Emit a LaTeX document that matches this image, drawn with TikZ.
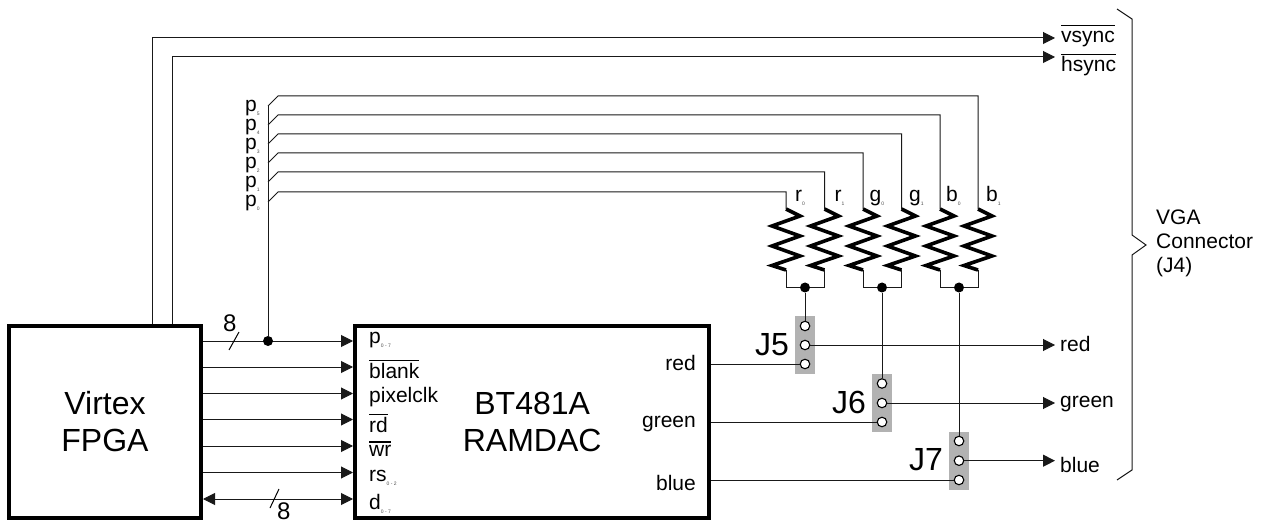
\documentclass[tikz,border=0pt]{standalone}
\usepackage{fontspec}
\setmainfont{Liberation Sans}
\usetikzlibrary{arrows.meta}
\newcommand{\ovl}[1]{\vbox{\hrule height 1.6pt\kern 1.6pt\hbox{\vphantom{b}#1}}}
\newcommand{\ovlx}[1]{\vbox{\hrule height 1.6pt\kern 2.6pt\hbox{#1}}}
\newcommand{\subs}[1]{\raisebox{-4pt}{\fontsize{5}{6}\selectfont\textcolor{black!70}{#1}}}
\tikzset{
  wire/.style={line width=1pt,black!90},
  sig/.style={wire,-{Triangle[length=12pt,width=12pt]}},
  bidir/.style={wire,{Triangle[length=12pt,width=12pt]}-{Triangle[length=12pt,width=12pt]}},
  heavybox/.style={draw=black,line width=4pt,fill=white,inner sep=0pt,minimum width=192pt,minimum height=192pt},
  bigtxt/.style={font=\fontsize{32}{37}\selectfont,align=center,inner sep=0pt},
  lab/.style={font=\fontsize{21}{24}\selectfont,inner sep=0pt,anchor=base west},
  labr/.style={font=\fontsize{21}{24}\selectfont,inner sep=0pt,anchor=base east},
  jlab/.style={font=\fontsize{32}{36}\selectfont,inner sep=0pt,anchor=base west},
  eight/.style={font=\fontsize{24}{28}\selectfont,inner sep=0pt,anchor=base west},
  junction/.style={circle,fill=black,inner sep=0pt,minimum size=10pt},
  pinhole/.style={circle,draw=black,line width=1.1pt,fill=white,inner sep=0pt,minimum size=9.5pt},
  header/.style={fill=black!30,inner sep=0pt,minimum width=20pt,minimum height=58pt},
  zig/.style={line width=3.6pt,black,miter limit=4},
}
\begin{document}
\begin{tikzpicture}[x=1pt,y=-1pt]
\useasboundingbox (0,0) rectangle (1269,521);
% blocks
\node[heavybox,bigtxt] (fpga) at (105,422) {Virtex\\FPGA};
\node[heavybox,bigtxt,minimum width=354.5pt] (ramdac) at (532.2,422) {BT481A\\RAMDAC};
% FPGA to RAMDAC
\foreach \n/\y in {a/341,b/367,c/393.5,d/419.5,e/446,f/472.5,g/499}{
  \coordinate (fo\n) at (203,\y);
  \coordinate (ri\n) at (353,\y);
}
\foreach \n in {a,b,c,d,e,f}{\draw[sig] (fo\n) -- (ri\n);}
\draw[bidir] (fog) -- (rig);
% bus slashes
\coordinate (sa1) at (229,350); \coordinate (sa2) at (239,332);
\coordinate (sb1) at (270,508); \coordinate (sb2) at (279,489);
\draw[line width=1pt] (sa1) -- (sa2);
\draw[line width=1pt] (sb1) -- (sb2);
\node[eight] (n8a) at (223,331) {8};
\node[eight] (n8b) at (277,519) {8};
% RAMDAC pins
\node[lab] (lp) at (369,344) {p\subs{0 - 7}};
\node[lab] (lblank) at (369,378) {\ovl{blank}};
\node[lab] (lclk) at (369,402) {pixelclk};
\node[lab] (lrd) at (369,432) {\ovl{rd}};
\node[lab] (lwr) at (369,456.7) {\ovlx{wr}};
\node[lab] (lrs) at (369,481) {rs\subs{0 - 2}};
\node[lab] (ld) at (369,509) {d\subs{0 - 7}};
\node[labr] (lred) at (696,370) {red};
\node[labr] (lgreen) at (696,427) {green};
\node[labr] (lblue) at (696,490) {blue};
% sync
\coordinate (vs0) at (152,324); \coordinate (vs1) at (152,38); \coordinate (vs2) at (1055,38);
\coordinate (hs0) at (172,324); \coordinate (hs1) at (172,57); \coordinate (hs2) at (1055,57);
\draw[sig] (vs0) -- (vs1) -- (vs2);
\draw[sig] (hs0) -- (hs1) -- (hs2);
\node[lab] (lv) at (1061,43) {\ovl{vsync}};
\node[lab] (lh) at (1061,72) {\ovl{hsync}};
% bus tap
\node[junction] (tap) at (268,341) {};
\coordinate (ptop) at (268,105);
\draw[wire] (tap) -- (ptop);
% resistors: name/x/y of feed line
\foreach \n/\x/\y in {p0/786/192,p1/824.5/172,p2/863/153,p3/901.5/134,p4/940/115,p5/978/96}{
  \coordinate (\n s) at (268,\y+10);
  \coordinate (\n t) at (278,\y);
  \coordinate (\n e) at (\x,\y);
  \coordinate (\n r) at (\x,209);
  \coordinate (\n b) at (\x,270);
  \draw[wire] (\n s) -- (\n t) -- (\n e) -- (\n r);
  \draw[zig] (\n r) -- ++(14,7) -- ++(-28,10) -- ++(28,10) -- ++(-28,10) -- ++(28,10) -- ++(-28,9.5) -- (\n b);
}
\foreach \n/\y/\s in {0/207/0,1/188/1,2/169/2,3/150/3,4/131/4,5/112/5}{
  \node[lab] (pl\n) at (245,\y) {p\subs{\s}};
}
\foreach \n/\x/\t/\s in {r0/795/r/0,r1/834.5/r/1,g0/869.5/g/0,g1/909/g/1,b0/946/b/0,b1/986/b/1}{
  \node[lab] (t\n) at (\x,202) {\t\subs{\s}};
}
% headers
\node[header] (h5) at (805,345) {};
\node[header] (h6) at (882,403) {};
\node[header] (h7) at (959,461) {};
\foreach \h/\x/\a/\b/\c in {5/805/326/345/364,6/882/383.5/403/422,7/959/441/460.7/480}{
  \node[pinhole] (j\h a) at (\x,\a) {};
  \node[pinhole] (j\h b) at (\x,\b) {};
  \node[pinhole] (j\h c) at (\x,\c) {};
}
\node[jlab] (lj5) at (755,355) {J5};
\node[jlab] (lj6) at (832,413) {J6};
\node[jlab] (lj7) at (909,470) {J7};
% resistor commons
\node[junction] (c1) at (805,287.5) {};
\node[junction] (c2) at (882,287.5) {};
\node[junction] (c3) at (959,287.5) {};
\draw[wire] (p0b) |- (c1) -| (p1b);
\draw[wire] (p2b) |- (c2) -| (p3b);
\draw[wire] (p4b) |- (c3) -| (p5b);
\draw[wire] (c1) -- (j5a);
\draw[wire] (c2) -- (j6a);
\draw[wire] (c3) -- (j7a);
% RAMDAC outputs
\coordinate (ro1) at (ramdac.east |- j5c);
\coordinate (ro2) at (ramdac.east |- j6c);
\coordinate (ro3) at (ramdac.east |- j7c);
\draw[wire] (ro1) -- (j5c);
\draw[wire] (ro2) -- (j6c);
\draw[wire] (ro3) -- (j7c);
% outputs
\coordinate (e1) at (1055,345);
\coordinate (e2) at (1055,403);
\coordinate (e3) at (1055,460.7);
\draw[sig] (j5b) -- (e1);
\draw[sig] (j6b) -- (e2);
\draw[sig] (j7b) -- (e3);
\node[lab] (ored) at (1060,351) {red};
\node[lab] (ogreen) at (1060,407) {green};
\node[lab] (oblue) at (1060,472) {blue};
% brace
\coordinate (br0) at (1117,9); \coordinate (br1) at (1132,19);
\coordinate (br2) at (1132,235); \coordinate (br3) at (1146,245);
\coordinate (br4) at (1132,255); \coordinate (br5) at (1132,470);
\coordinate (br6) at (1117,480);
\draw[wire] (br0) -- (br1) -- (br2) -- (br3) -- (br4) -- (br5) -- (br6);
\node[font=\fontsize{21}{24}\selectfont,align=left,inner sep=0pt,anchor=west] (vga) at (1156,243) {VGA\\Connector\\(J4)};
\end{tikzpicture}
\end{document}
